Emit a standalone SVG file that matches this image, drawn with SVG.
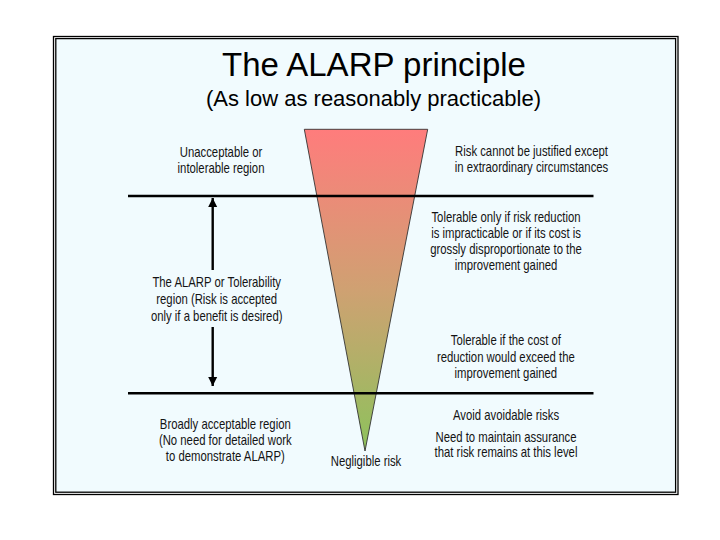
<svg xmlns="http://www.w3.org/2000/svg" width="720" height="540" viewBox="0 0 720 540">
  <defs>
    <linearGradient id="riskGrad" x1="0" y1="0" x2="0" y2="1">
      <stop offset="0" stop-color="#FF7C7C"/>
      <stop offset="0.5" stop-color="#CFA172"/>
      <stop offset="1" stop-color="#8DC25C"/>
    </linearGradient>
    <marker id="arrow" markerUnits="userSpaceOnUse" markerWidth="10" markerHeight="10" refX="9" refY="5" orient="auto">
      <path d="M0,0.5 L9,5 L0,9.5 Z" fill="#000"/>
    </marker>
    <style>
      .body { font-family: "Liberation Sans", Arial, sans-serif; font-size: 14px; fill: #141414; text-anchor: middle; }
      .title { font-family: "Liberation Sans", Arial, sans-serif; fill: #000; text-anchor: middle; }
      .rule { stroke: #000; stroke-width: 2.6; fill: none; }
      .arr { stroke: #000; stroke-width: 2.4; fill: none; marker-end: url(#arrow); }
    </style>
  </defs>

  <rect x="0" y="0" width="720" height="540" fill="#FFFFFF"/>

  <g id="frame">
    <rect x="53.5" y="36.5" width="624.5" height="458" fill="none" stroke="#000" stroke-width="1.3"/>
    <rect x="55.8" y="38.6" width="619.8" height="453.6" fill="#F1FBFE" stroke="#000" stroke-width="1.3"/>
  </g>

  <g id="title">
    <text class="title" x="374" y="76" font-size="33">The ALARP principle</text>
    <text class="title" x="373.5" y="106" font-size="22">(As low as reasonably practicable)</text>
  </g>

  <g id="funnel">
    <polygon points="304.3,129.3 427.7,129.3 365,451" fill="url(#riskGrad)" stroke="#333" stroke-width="0.9"/>
  </g>

  <g id="connectors">
    <line class="rule" x1="128" y1="196" x2="593.5" y2="196"/>
    <line class="rule" x1="128" y1="393.3" x2="593.5" y2="393.3"/>
    <line class="arr" x1="212.7" y1="270" x2="212.7" y2="198"/>
    <line class="arr" x1="212.7" y1="327" x2="212.7" y2="386"/>
  </g>

  <g id="unacceptable-region" transform="translate(221 0) scale(0.81 1)">
    <text class="body" x="0" y="157">Unacceptable or</text>
    <text class="body" x="0" y="173.5">intolerable region</text>
  </g>

  <g id="alarp-region" transform="translate(216.7 0) scale(0.81 1)">
    <text class="body" x="0" y="287">The ALARP or Tolerability</text>
    <text class="body" x="0" y="304">region (Risk is accepted</text>
    <text class="body" x="0" y="321">only if a benefit is desired)</text>
  </g>

  <g id="broadly-acceptable-region" transform="translate(225.3 0) scale(0.81 1)">
    <text class="body" x="0" y="429">Broadly acceptable region</text>
    <text class="body" x="0" y="445">(No need for detailed work</text>
    <text class="body" x="0" y="461">to demonstrate ALARP)</text>
  </g>

  <g id="unjustified-note" transform="translate(531.5 0) scale(0.81 1)">
    <text class="body" x="0" y="156">Risk cannot be justified except</text>
    <text class="body" x="0" y="172.5">in extraordinary circumstances</text>
  </g>

  <g id="tolerable-note" transform="translate(506 0) scale(0.81 1)">
    <text class="body" x="0" y="221.7">Tolerable only if risk reduction</text>
    <text class="body" x="0" y="238">is impracticable or if its cost is</text>
    <text class="body" x="0" y="254">grossly disproportionate to the</text>
    <text class="body" x="0" y="270">improvement gained</text>
  </g>

  <g id="tolerable-cost-note" transform="translate(505.8 0) scale(0.81 1)">
    <text class="body" x="0" y="345">Tolerable if the cost of</text>
    <text class="body" x="0" y="362.5">reduction would exceed the</text>
    <text class="body" x="0" y="378.5">improvement gained</text>
  </g>

  <g id="acceptable-note" transform="translate(506 0) scale(0.81 1)">
    <text class="body" x="0" y="420">Avoid avoidable risks</text>
    <text class="body" x="0" y="441.7">Need to maintain assurance</text>
    <text class="body" x="0" y="456.7">that risk remains at this level</text>
  </g>

  <g id="negligible-risk" transform="translate(366 0) scale(0.81 1)">
    <text class="body" x="0" y="466">Negligible risk</text>
  </g>
</svg>
